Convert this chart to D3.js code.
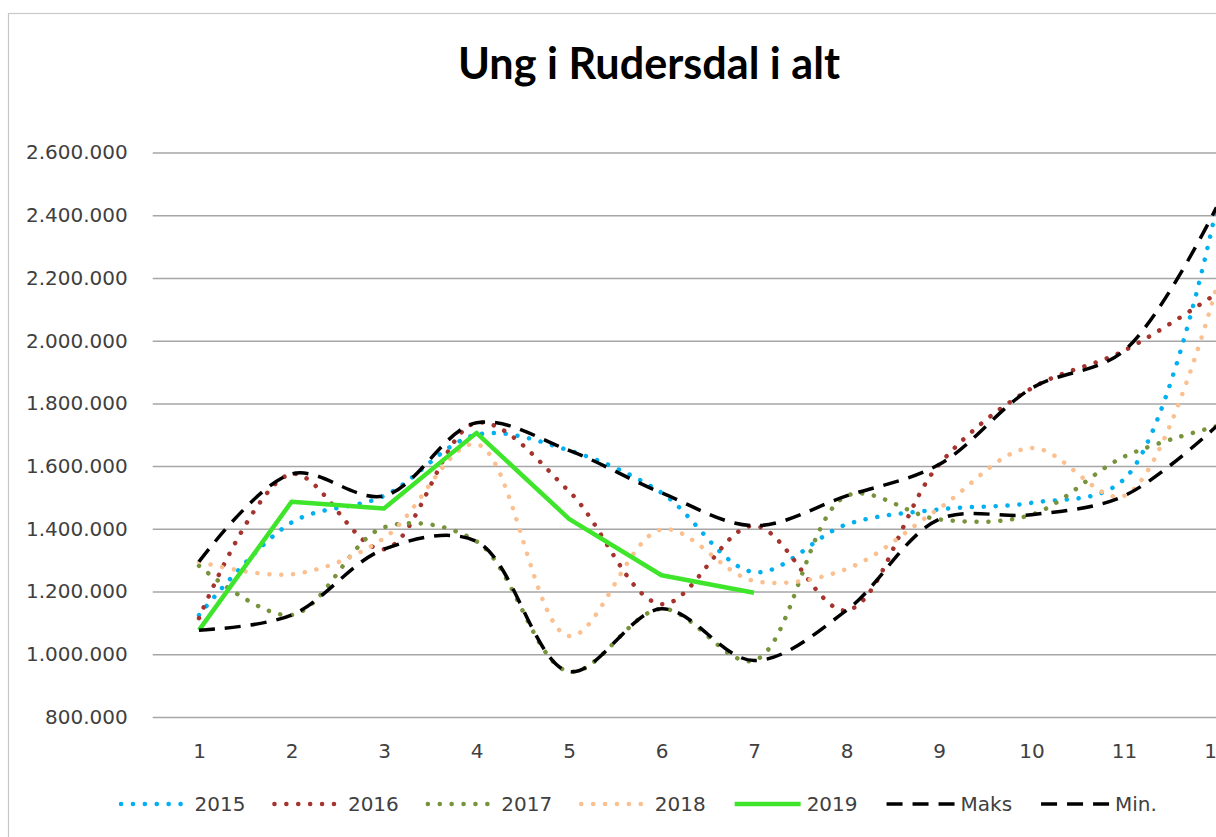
<!DOCTYPE html>
<html>
<head>
<meta charset="utf-8">
<script src="https://cdn.jsdelivr.net/npm/d3@7"></script>
<style>
  html, body { margin: 0; padding: 0; background: #ffffff; }
  svg { display: block; }
</style>
</head>
<body>
<svg id="chart" width="1216" height="837"></svg>
<script>
// ---- data ----
const titleText = "Ung i Rudersdal i alt";
const months = [1, 2, 3, 4, 5, 6, 7, 8, 9, 10, 11, 12];
const yTicks = [800000, 1000000, 1200000, 1400000, 1600000, 1800000, 2000000, 2200000, 2400000, 2600000];
const seriesNames = ["2015", "2016", "2017", "2018", "2019", "Maks", "Min."];
const v2015 = [1125000, 1420000, 1505000, 1700000, 1650000, 1515000, 1262000, 1414000, 1462000, 1483000, 1558000, 2425000];
const v2016 = [1115000, 1575000, 1335000, 1738000, 1520000, 1160000, 1410000, 1140000, 1605000, 1848000, 1968000, 2150000];
const v2017 = [1282000, 1125000, 1405000, 1360000, 945000, 1145000, 980000, 1505000, 1430000, 1445000, 1630000, 1727000];
const v2018 = [1295000, 1255000, 1370000, 1670000, 1058000, 1398000, 1234000, 1272000, 1465000, 1658000, 1505000, 2170000];
const v2019 = [1077000, 1486000, 1465000, 1706000, 1432000, 1252000, 1196000];
const vMaks = [1295000, 1575000, 1505000, 1738000, 1650000, 1515000, 1410000, 1505000, 1605000, 1848000, 1968000, 2425000];
const vMin  = [1077000, 1125000, 1335000, 1360000, 945000, 1145000, 980000, 1140000, 1430000, 1445000, 1505000, 1727000];

// ---- styles ----
const styles = {
  "2015": { color: "#00b0f0", width: 4.5, dash: "0.1 11.8", cap: "round", smooth: true },
  "2016": { color: "#a5342f", width: 4.5, dash: "0.1 11.8", cap: "round", smooth: true },
  "2017": { color: "#77933c", width: 4.5, dash: "0.1 11.8", cap: "round", smooth: true },
  "2018": { color: "#fac090", width: 4.5, dash: "0.1 11.8", cap: "round", smooth: true },
  "2019": { color: "#3ee52b", width: 4.5, dash: null, cap: "butt", smooth: false },
  "Maks": { color: "#000000", width: 3.5, dash: "16 10", cap: "butt", smooth: true },
  "Min.": { color: "#000000", width: 3.5, dash: "16 10", cap: "butt", smooth: true }
};
const seriesValues = [v2015, v2016, v2017, v2018, v2019, vMaks, vMin];

const svg = d3.select("#chart");
svg.append("rect").attr("width", 1216).attr("height", 837).attr("fill", "#ffffff");
// chart area border (extends off canvas on right/bottom)
svg.append("rect").attr("x", 8.5).attr("y", 13.5).attr("width", 1400).attr("height", 1000)
  .attr("fill", "none").attr("stroke", "#c8c8c8").attr("stroke-width", 1.2);

const plotLeft = 152.75, plotRight = 1262.75, plotTop = 152.5, plotBottom = 717;
const x = d3.scalePoint().domain(months).range([plotLeft, plotRight]).padding(0.5);
const y = d3.scaleLinear().domain([800000, 2600000]).range([plotBottom, plotTop]);

const loc = d3.formatLocale({ decimal: ",", thousands: ".", grouping: [3], currency: ["", " kr"] });
const fmt = loc.format(",d");

// gridlines
const grid = svg.append("g").attr("transform", `translate(${plotLeft},0)`)
  .call(d3.axisRight(y).tickValues(yTicks).tickSize(plotRight - plotLeft + 200).tickFormat(""));
grid.select(".domain").remove();
grid.selectAll("line").attr("stroke", "#a6a6a6").attr("stroke-width", 1.5);

// y axis labels
const yAxis = svg.append("g").attr("transform", `translate(${plotLeft},0)`)
  .call(d3.axisLeft(y).tickValues(yTicks).tickSize(0).tickPadding(25).tickFormat(fmt));
yAxis.select(".domain").remove();
yAxis.selectAll("text").attr("font-family", "DejaVu Sans").attr("font-size", 20).attr("fill", "#404040");

// x axis labels
const xAxis = svg.append("g").attr("transform", `translate(0,${plotBottom})`)
  .call(d3.axisBottom(x).tickSize(0).tickPadding(27));
xAxis.select(".domain").remove();
xAxis.selectAll("text").attr("font-family", "DejaVu Sans").attr("font-size", 20).attr("fill", "#404040");

// lines
const smoothLine = d3.line()
  .x((d, i) => x(months[i]))
  .y(d => y(d))
  .curve(d3.curveCatmullRom.alpha(0.5));
const straightLine = d3.line()
  .x((d, i) => x(months[i]))
  .y(d => y(d))
  .curve(d3.curveLinear);

const linesG = svg.append("g");
seriesNames.forEach((name, k) => {
  const s = styles[name];
  const p = linesG.append("path")
    .datum(seriesValues[k])
    .attr("d", s.smooth ? smoothLine : straightLine)
    .attr("fill", "none")
    .attr("stroke", s.color)
    .attr("stroke-width", s.width)
    .attr("stroke-linecap", s.cap)
    .attr("stroke-linejoin", "round");
  if (s.dash) p.attr("stroke-dasharray", s.dash);
});

// title
svg.append("text")
  .attr("x", 649).attr("y", 79)
  .attr("text-anchor", "middle")
  .attr("font-family", "Lato")
  .attr("font-weight", "bold")
  .attr("font-size", 43)
  .attr("textLength", 382)
  .attr("lengthAdjust", "spacingAndGlyphs")
  .attr("fill", "#000000")
  .text(titleText);

// legend
const legend = svg.append("g").attr("transform", "translate(0,804)");
let lx = 121;
seriesNames.forEach(name => {
  const s = styles[name];
  const sampleLen = s.dash && s.cap === "round" ? 61.5 : (s.dash ? 68 : 66);
  const l = legend.append("line")
    .attr("x1", lx).attr("x2", lx + sampleLen).attr("y1", 0).attr("y2", 0)
    .attr("stroke", s.color).attr("stroke-width", s.width)
    .attr("stroke-linecap", s.cap);
  if (s.dash) l.attr("stroke-dasharray", s.dash);
  const gap = s.cap === "round" ? 12 : 6;
  const t = legend.append("text")
    .attr("x", lx + sampleLen + gap).attr("y", 0).attr("dy", "0.36em")
    .attr("font-family", "DejaVu Sans").attr("font-size", 20).attr("fill", "#404040")
    .text(name);
  lx = lx + sampleLen + gap + t.node().getComputedTextLength() + 29;
});
</script>
</body>
</html>
